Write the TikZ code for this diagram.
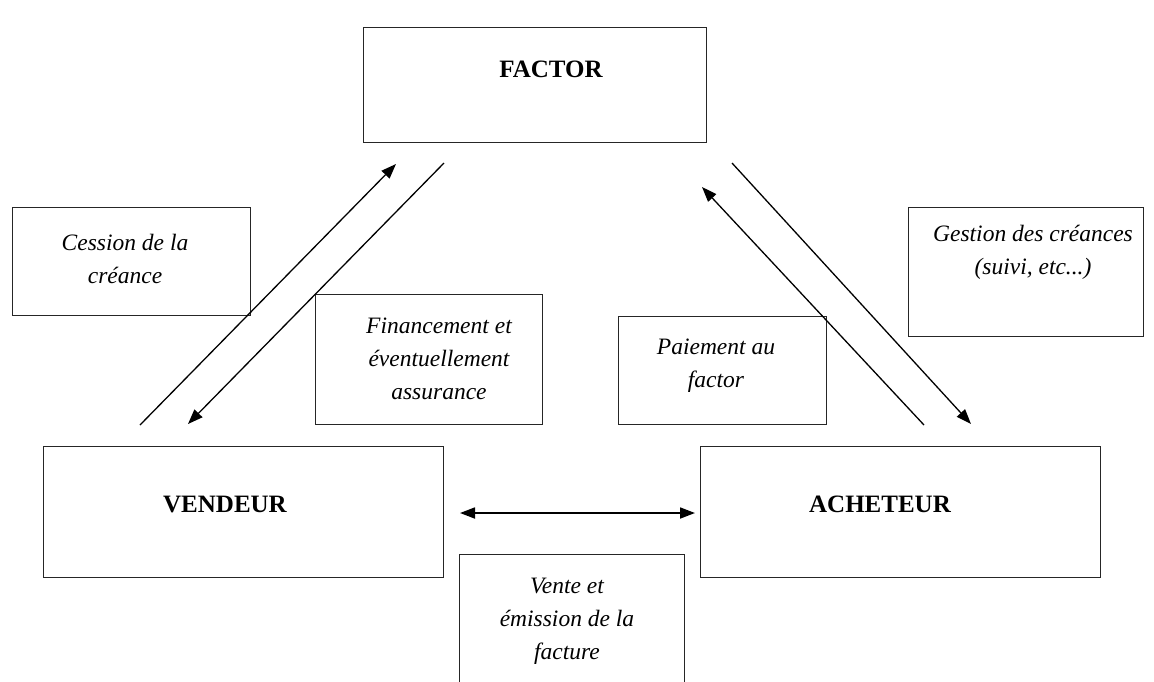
\documentclass[tikz,border=0pt]{standalone}
\usepackage{fontspec}
\setmainfont{Liberation Serif}
\usetikzlibrary{arrows.meta}
\begin{document}
\begin{tikzpicture}[x=1pt,y=-1pt,
  box/.style={draw=black!85,line width=1.4pt,rectangle,inner sep=0pt,anchor=north west},
  lbl/.style={font=\fontsize{23.5}{33}\selectfont\itshape,align=center,inner sep=0pt},
  ttl/.style={font=\fontsize{25}{28}\selectfont\bfseries,inner sep=0pt},
  arr/.style={line width=1.3pt,-{Triangle[length=15pt,width=11pt]}},
  darr/.style={line width=1.8pt,{Triangle[length=15pt,width=11pt]}-{Triangle[length=15pt,width=11pt]}}]
\useasboundingbox (0,0) rectangle (1154,681);
\clip (0,0) rectangle (1154,681);
% main boxes
\node[box,minimum width=343pt,minimum height=115pt] (factor) at (363,27) {};
\node[ttl] (factort) at (551,69) {FACTOR};
\node[box,minimum width=400pt,minimum height=131pt] (vendeur) at (43,446) {};
\node[ttl] (vendeurt) at (225,504) {VENDEUR};
\node[box,minimum width=400pt,minimum height=131pt] (acheteur) at (700,446) {};
\node[ttl] (acheteurt) at (880,504) {ACHETEUR};
% label boxes
\node[box,minimum width=238pt,minimum height=108pt] (cession) at (12,207) {};
\node[lbl] (cessiont) at (125,259) {Cession de la\\créance};
\node[box,minimum width=227pt,minimum height=130pt] (fin) at (315,294) {};
\node[lbl] (fint) at (439,359) {Financement et\\éventuellement\\assurance};
\node[box,minimum width=208pt,minimum height=108pt] (paie) at (618,316) {};
\node[lbl] (paiet) at (716,366) {Paiement au\\factor};
\node[box,minimum width=235pt,minimum height=129pt] (gest) at (908,207) {};
\node[lbl] (gestt) at (1033,252) {Gestion des créances\\(suivi, etc...)};
\node[box,minimum width=225pt,minimum height=160pt] (vente) at (459,554) {};
\node[lbl] (ventet) at (567,621) {Vente et\\émission de la\\facture};
% arrow ends
\coordinate (a1s) at (140,425); \coordinate (a1e) at (396,164);
\coordinate (a2s) at (444,163); \coordinate (a2e) at (188,424);
\coordinate (a3s) at (924,425); \coordinate (a3e) at (702,187);
\coordinate (a4s) at (732,163); \coordinate (a4e) at (971,424);
\coordinate (d1) at (460,513); \coordinate (d2) at (695,513);
\draw[arr] (a1s) -- (a1e);
\draw[arr] (a2s) -- (a2e);
\draw[arr] (a3s) -- (a3e);
\draw[arr] (a4s) -- (a4e);
\draw[darr] (d1) -- (d2);
\end{tikzpicture}
\end{document}
